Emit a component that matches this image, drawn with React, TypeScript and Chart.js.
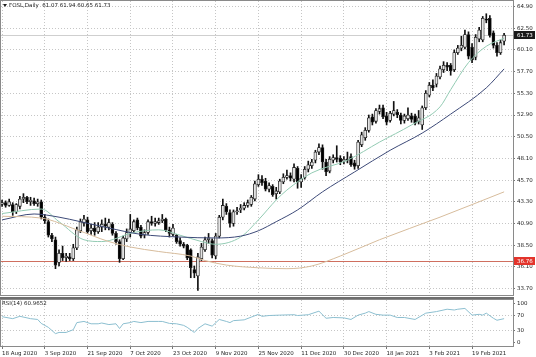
import React, { useEffect, useRef } from 'react';
import { Chart, registerables } from 'chart.js';

Chart.register(...registerables);

// ---- Data ----
const headerText = 'FOSL,Daily  61.07 61.94 60.65 61.73';
const rsiHeaderText = 'RSI(14) 60.9652';

const opens = [
  43.0, 43.2, 42.9, 43.0, 42.2, 42.8, 43.6, 43.8, 43.3, 43.4, 43.1, 43.3, 41.6, 41.1, 39.6, 39.1, 36.6, 37.6, 37.1, 37.2,
  37.0, 38.2, 40.1, 41.0, 41.3, 40.1, 40.4, 40.0, 40.5, 40.8, 40.5, 40.8, 39.8, 38.9, 37.0, 39.2, 39.9, 40.1, 41.3, 40.5,
  39.6, 39.9, 41.1, 40.9, 41.0, 41.2, 41.4, 40.2, 39.7, 39.6, 39.0, 38.6, 38.5, 38.0, 35.8, 35.1, 37.0, 38.0, 39.1, 39.0,
  37.3, 39.5, 41.6, 42.8, 42.1, 40.9, 42.2, 42.4, 42.6, 42.9, 43.0, 43.6, 45.2, 45.8, 45.6, 44.7, 45.0, 44.2, 44.4, 45.5,
  46.0, 46.2, 45.8, 47.0, 45.5, 46.0, 46.9, 47.3, 47.9, 48.8, 49.3, 47.7, 46.7, 47.9, 48.2, 48.1, 47.8, 48.0, 48.3, 47.6,
  47.3, 49.6, 50.4, 51.2, 52.7, 52.2, 53.3, 53.7, 52.8, 52.3, 53.0, 53.2, 52.9, 52.3, 52.5, 52.8, 52.8, 52.2, 51.8, 53.7,
  55.1, 56.2, 56.3, 57.1, 57.9, 58.4, 58.4, 57.9, 59.8, 60.3, 60.4, 61.8, 60.4, 59.3, 61.3, 61.2, 63.5, 63.6, 62.0, 60.6,
  59.8, 61.07,
];
const highs = [
  43.5, 43.4, 43.6, 43.2, 43.1, 43.9, 44.2, 43.9, 43.8, 43.7, 43.6, 43.5, 41.9, 41.4, 39.8, 39.4, 38.0, 38.4, 37.6, 37.6,
  38.6, 40.5, 41.4, 41.8, 41.6, 40.8, 41.0, 41.0, 41.3, 41.5, 41.4, 41.0, 40.0, 39.1, 39.5, 40.3, 41.9, 41.3, 41.5, 40.7,
  40.2, 41.3, 41.7, 41.5, 41.5, 41.9, 41.5, 40.5, 40.8, 39.7, 39.3, 38.8, 38.6, 38.1, 36.2, 37.6, 38.7, 39.4, 39.8, 39.2,
  39.8, 41.8, 43.6, 43.1, 42.4, 42.4, 42.7, 43.0, 43.2, 43.5, 44.0, 45.6, 46.3, 46.2, 45.9, 45.4, 45.2, 44.9, 45.8, 46.4,
  46.8, 46.5, 47.5, 47.2, 46.3, 47.2, 47.8, 48.0, 49.0, 49.7, 49.6, 48.0, 48.3, 48.5, 49.5, 48.4, 48.3, 48.8, 48.6, 47.9,
  50.1, 51.0, 51.5, 52.9, 53.0, 53.6, 54.0, 54.0, 53.2, 53.3, 54.4, 53.5, 53.1, 53.0, 53.7, 53.1, 53.0, 53.4, 53.9, 55.6,
  56.5, 56.8, 57.5, 58.3, 58.8, 58.7, 58.6, 60.1, 60.6, 61.6, 62.3, 62.1, 60.8, 61.8, 62.6, 63.8, 64.1, 63.9, 62.2, 60.9,
  61.2, 61.94,
];
const lows = [
  42.8, 42.7, 42.8, 41.8, 42.0, 42.5, 43.2, 43.1, 42.9, 42.9, 42.8, 41.4, 40.9, 39.4, 38.9, 35.9, 36.2, 36.8, 36.7, 36.8,
  36.8, 38.0, 39.9, 40.6, 39.8, 39.7, 39.6, 39.8, 40.0, 40.2, 40.2, 39.6, 38.6, 36.6, 36.9, 38.9, 39.4, 39.9, 40.2, 39.3,
  39.3, 39.7, 40.7, 40.6, 40.8, 41.0, 40.0, 39.4, 39.5, 38.7, 38.4, 38.2, 36.9, 34.9, 34.9, 33.5, 36.8, 37.8, 38.7, 37.1,
  37.0, 39.3, 41.3, 41.9, 40.5, 40.6, 41.9, 42.1, 42.4, 42.7, 42.8, 43.4, 45.0, 45.1, 44.5, 44.4, 43.9, 43.6, 44.2, 45.3,
  45.8, 45.6, 45.5, 44.8, 44.9, 45.8, 46.6, 47.0, 47.6, 48.5, 46.9, 46.2, 46.5, 47.6, 47.7, 47.4, 47.5, 47.6, 47.2, 46.9,
  47.0, 49.4, 50.1, 51.0, 51.8, 52.0, 53.0, 52.5, 51.8, 52.1, 52.8, 52.6, 51.9, 52.0, 52.3, 52.1, 51.8, 51.9, 51.3, 53.5,
  54.9, 55.6, 56.0, 56.9, 57.6, 57.8, 57.3, 57.7, 59.6, 60.0, 60.2, 59.1, 58.7, 59.0, 61.0, 61.0, 63.1, 61.5, 60.3, 59.4,
  59.6, 60.65,
];
const closes = [
  43.2, 42.9, 43.3, 42.2, 43.0, 43.6, 43.8, 43.3, 43.5, 43.1, 43.3, 41.6, 41.2, 39.6, 39.2, 36.3, 37.6, 37.1, 37.3, 37.0,
  38.2, 40.2, 41.1, 41.4, 40.0, 40.4, 40.0, 40.5, 40.8, 40.6, 41.0, 39.8, 38.9, 37.0, 39.3, 39.9, 40.3, 41.1, 40.4, 39.5,
  39.9, 41.1, 40.9, 41.1, 41.2, 41.4, 40.2, 39.8, 40.4, 38.9, 38.6, 38.4, 37.1, 36.0, 35.4, 37.2, 38.3, 39.1, 39.3, 37.4,
  39.5, 41.6, 42.9, 42.2, 40.9, 42.2, 42.3, 42.6, 42.9, 43.2, 43.8, 45.3, 45.8, 45.4, 44.7, 45.1, 44.1, 44.5, 45.6, 46.0,
  46.2, 45.9, 47.1, 45.5, 45.9, 46.9, 47.4, 47.7, 48.8, 49.3, 47.7, 46.6, 48.0, 48.2, 48.0, 47.7, 48.0, 47.9, 47.4, 47.2,
  49.9, 50.7, 51.2, 52.6, 52.1, 53.4, 53.6, 52.7, 52.1, 53.1, 53.4, 52.9, 52.3, 52.8, 52.9, 52.4, 52.0, 52.6, 53.7, 55.3,
  56.2, 55.9, 57.2, 58.0, 58.4, 58.2, 57.8, 59.8, 60.3, 60.6, 61.8, 59.4, 59.0, 61.5, 62.3, 63.6, 63.4, 61.7, 60.6, 59.8,
  60.9, 61.73,
];

const ma20Bars = [0, 11, 16, 23, 28, 37, 44, 50, 56, 60, 67, 72, 77, 80, 87, 97, 106, 115, 123, 126, 131, 136, 141];
const ma20Vals = [42.0, 42.5, 41.1, 39.1, 38.9, 39.9, 40.2, 39.6, 38.9, 38.6, 39.4, 41.3, 43.5, 44.6, 46.5, 47.9, 49.9, 51.8, 53.8, 55.7, 58.7, 60.5, 61.4];

const ma50Bars = [0, 9, 16, 22, 30, 39, 50, 60, 67, 72, 77, 83, 90, 99, 109, 118, 126, 136, 141];
const ma50Vals = [41.3, 41.95, 41.6, 41.1, 40.4, 39.7, 39.4, 39.3, 39.5, 40.1, 41.1, 42.4, 44.4, 46.6, 49.0, 50.9, 53.0, 55.9, 58.0];

const ma200Bars = [0, 11, 21, 30, 36, 44, 53, 57, 63, 72, 80, 87, 95, 106, 123, 141];
const ma200Vals = [41.7, 41.5, 40.2, 38.9, 38.3, 37.8, 37.3, 36.8, 36.3, 36.0, 35.9, 36.2, 37.3, 39.1, 41.6, 44.4];

const rsiBars = [0, 3, 5, 8, 10, 11, 13, 15, 16, 18, 20, 21, 23, 25, 27, 28, 30, 32, 33, 34, 36, 37, 39, 41, 44, 45, 47, 49, 51, 52, 54, 55, 57, 59, 61, 63, 64, 65, 68, 70, 72, 73, 75, 78, 82, 83, 86, 89, 91, 93, 96, 98, 100, 102, 103, 105, 107, 109, 111, 113, 116, 119, 122, 125, 127, 128, 130, 132, 134, 135, 136, 138, 139, 141];
const rsiVals = [66, 61, 67, 61, 59, 49, 39, 23, 26, 26, 33, 51, 54, 48, 48, 50, 46, 48, 36, 48, 51, 54, 51, 54, 54, 54, 49, 48, 44, 39, 26, 36, 48, 42, 59, 54, 51, 56, 58, 65, 72, 67, 69, 70, 71, 69, 71, 80, 62, 64, 63, 59, 70, 75, 79, 72, 70, 70, 64, 64, 59, 75, 79, 85, 83, 85, 87, 70, 72, 70, 75, 62, 57, 61];

const dateTickBars = [0, 12, 24, 36, 48, 60, 72, 84, 96, 108, 120, 132];
const dateTickLabels = ['18 Aug 2020', '3 Sep 2020', '21 Sep 2020', '7 Oct 2020', '23 Oct 2020', '9 Nov 2020', '25 Nov 2020', '11 Dec 2020', '30 Dec 2020', '18 Jan 2021', '3 Feb 2021', '19 Feb 2021'];
const priceTicks = [33.7, 36.1, 38.5, 40.9, 43.3, 45.7, 48.1, 50.5, 52.9, 55.3, 57.7, 60.1, 62.5, 64.9];
const rsiTicks = [0, 30, 70, 100];
const rsiLevels = [30, 70];
const supportLevel = 36.76;
const lastPrice = 61.73;

// ---- Styling ----
const FONT = "'DejaVu Sans', sans-serif";
const FS = 5.5;
const GRID = '#c6c6c6';
const TEXT = '#1e1e1e';
const X_MIN = -0.3;
const X_MAX = 143.5;

function noPad(s: any) {
  s.paddingTop = 0;
  s.paddingBottom = 0;
  s.paddingLeft = 0;
  s.paddingRight = 0;
}

function xAxis(showLabels: boolean) {
  return {
    type: 'linear',
    min: X_MIN,
    max: X_MAX,
    offset: false,
    afterBuildTicks: (s: any) => {
      s.ticks = dateTickBars.map((v) => ({ value: v }));
    },
    afterFit: (s: any) => {
      s.height = showLabels ? 11 : 0;
      noPad(s);
    },
    ticks: {
      display: showLabels,
      autoSkip: false,
      maxRotation: 0,
      minRotation: 0,
      align: 'start',
      padding: 1,
      color: TEXT,
      font: { family: FONT, size: FS },
      callback: (_v: any, i: number) => dateTickLabels[i],
    },
    grid: { color: GRID, lineWidth: 1, offset: false, drawTicks: showLabels, tickLength: 3, tickColor: '#777' },
    border: { display: false, dash: [1, 2] },
  };
}

const framePlugin = {
  id: 'frame',
  afterDraw(chart: any) {
    const { ctx, chartArea: a } = chart;
    ctx.save();
    ctx.strokeStyle = '#8a8a8a';
    ctx.lineWidth = 1;
    ctx.beginPath();
    ctx.moveTo(0.5, 0);
    ctx.lineTo(0.5, a.bottom + 1);
    ctx.moveTo(0, 0.5);
    ctx.lineTo(a.right + 1, 0.5);
    ctx.moveTo(a.right + 0.5, 0);
    ctx.lineTo(a.right + 0.5, a.bottom + 1);
    ctx.moveTo(0, a.bottom + 0.5);
    ctx.lineTo(a.right + 1, a.bottom + 0.5);
    ctx.stroke();
    ctx.restore();
  },
};

const priceLinesPlugin = {
  id: 'priceLines',
  beforeDatasetsDraw(chart: any) {
    const { ctx, chartArea: a, scales } = chart;
    const ys = scales.y;
    ctx.save();
    ctx.lineWidth = 1;
    const yl = Math.round(ys.getPixelForValue(lastPrice)) + 0.5;
    ctx.strokeStyle = '#cfcfcf';
    ctx.beginPath();
    ctx.moveTo(a.left, yl);
    ctx.lineTo(a.right, yl);
    ctx.stroke();
    const yr = Math.round(ys.getPixelForValue(supportLevel)) + 0.5;
    ctx.strokeStyle = '#cf6f5f';
    ctx.beginPath();
    ctx.moveTo(a.left, yr);
    ctx.lineTo(a.right, yr);
    ctx.stroke();
    ctx.restore();
  },
  afterDraw(chart: any) {
    const { ctx, chartArea: a, scales } = chart;
    const ys = scales.y;
    ctx.save();
    ctx.font = `${FS}px ${FONT}`;
    ctx.textBaseline = 'middle';
    const tag = (v: number, bg: string) => {
      const y = Math.round(ys.getPixelForValue(v));
      ctx.fillStyle = bg;
      ctx.fillRect(a.right + 1, y - 4, 21, 8);
      ctx.fillStyle = '#ffffff';
      ctx.fillText(v.toFixed(2), a.right + 4, y + 0.5);
    };
    tag(lastPrice, '#1a1a1a');
    tag(supportLevel, '#e3342b');
    // header
    ctx.fillStyle = TEXT;
    ctx.beginPath();
    ctx.moveTo(3, 4);
    ctx.lineTo(7, 4);
    ctx.lineTo(5, 7);
    ctx.closePath();
    ctx.fill();
    ctx.fillText(headerText, 9, 6);
    ctx.restore();
  },
};

const rsiTextPlugin = {
  id: 'rsiText',
  afterDraw(chart: any) {
    const { ctx } = chart;
    ctx.save();
    ctx.font = `${FS}px ${FONT}`;
    ctx.textBaseline = 'middle';
    ctx.fillStyle = TEXT;
    ctx.fillText(rsiHeaderText, 2, 5);
    ctx.restore();
  },
};

export default function App() {
  const mainRef = useRef<HTMLCanvasElement>(null);
  const rsiRef = useRef<HTMLCanvasElement>(null);

  useEffect(() => {
    document.body.style.margin = '0';
    Chart.defaults.font.family = FONT;
    Chart.defaults.font.size = FS;
    const idx = closes.map((_, i) => i);
    const wicks = idx.map((i) => ({ x: i, y: [lows[i], highs[i]] }));
    const bodies = idx.map((i) => ({
      x: i,
      y: [Math.min(opens[i], closes[i]), Math.max(opens[i], closes[i])],
    }));
    const bodyColors = idx.map((i) => (closes[i] >= opens[i] ? '#e4e4e4' : '#000000'));
    const pts = (bars: number[], vals: number[]) => bars.map((b, k) => ({ x: b, y: vals[k] }));

    const main = new Chart(mainRef.current as HTMLCanvasElement, {
      type: 'bar',
      data: {
        datasets: [
          {
            type: 'line',
            data: pts(ma200Bars, ma200Vals),
            borderColor: '#d7bc9c',
            borderWidth: 1,
            pointRadius: 0,
            cubicInterpolationMode: 'monotone',
            order: 1,
          } as any,
          {
            type: 'line',
            data: pts(ma50Bars, ma50Vals),
            borderColor: '#3d4a78',
            borderWidth: 1,
            pointRadius: 0,
            cubicInterpolationMode: 'monotone',
            order: 1,
          } as any,
          {
            type: 'line',
            data: pts(ma20Bars, ma20Vals),
            borderColor: '#93cbb3',
            borderWidth: 1,
            pointRadius: 0,
            cubicInterpolationMode: 'monotone',
            order: 1,
          } as any,
          {
            type: 'bar',
            data: bodies,
            backgroundColor: bodyColors,
            borderColor: '#222222',
            borderWidth: 0.8,
            borderSkipped: false,
            barThickness: 3,
            grouped: false,
            order: 2,
          } as any,
          {
            type: 'bar',
            data: wicks,
            backgroundColor: '#111111',
            borderWidth: 0,
            barThickness: 1,
            grouped: false,
            order: 3,
          } as any,
        ],
      },
      options: {
        responsive: false,
        animation: false,
        events: [],
        layout: { padding: { left: 1, top: 1, right: 0, bottom: 2 } },
        plugins: { legend: { display: false }, tooltip: { enabled: false } },
        scales: {
          x: xAxis(false) as any,
          y: {
            type: 'linear',
            position: 'right',
            min: 32.99,
            max: 65.51,
            afterBuildTicks: (s: any) => {
              s.ticks = priceTicks.map((v) => ({ value: v }));
            },
            afterFit: (s: any) => {
              s.width = 23;
              noPad(s);
            },
            ticks: {
              autoSkip: false,
              padding: 2,
              color: TEXT,
              font: { family: FONT, size: FS },
              callback: (v: any) => Number(v).toFixed(2),
            },
            grid: { color: GRID, lineWidth: 1, tickLength: 2, tickColor: '#777' },
            border: { display: false, dash: [1, 2] },
          } as any,
        },
      },
      plugins: [priceLinesPlugin, framePlugin],
    });

    const rsi = new Chart(rsiRef.current as HTMLCanvasElement, {
      type: 'line',
      data: {
        datasets: [
          {
            data: pts(rsiBars, rsiVals),
            borderColor: '#8cbfd0',
            borderWidth: 1,
            pointRadius: 0,
            tension: 0,
          } as any,
        ],
      },
      options: {
        responsive: false,
        animation: false,
        events: [],
        layout: { padding: { left: 1, top: 1, right: 0, bottom: 0 } },
        plugins: { legend: { display: false }, tooltip: { enabled: false } },
        scales: {
          x: xAxis(true) as any,
          y: {
            type: 'linear',
            position: 'right',
            min: -8.4,
            max: 108.4,
            afterBuildTicks: (s: any) => {
              s.ticks = rsiTicks.map((v) => ({ value: v }));
            },
            afterFit: (s: any) => {
              s.width = 23;
              noPad(s);
            },
            ticks: {
              autoSkip: false,
              padding: 2,
              color: TEXT,
              font: { family: FONT, size: FS },
              callback: (v: any) => String(v),
            },
            grid: {
              color: (c: any) =>
                c.tick && rsiLevels.indexOf(c.tick.value) >= 0 ? GRID : 'rgba(0,0,0,0)',
              lineWidth: 1,
              tickLength: 2,
              tickColor: '#777',
            },
            border: { display: false, dash: [1, 2] },
          } as any,
        },
      },
      plugins: [rsiTextPlugin, framePlugin],
    });

    return () => {
      main.destroy();
      rsi.destroy();
    };
  }, []);

  return (
    <div
      style={{
        position: 'fixed',
        left: 0,
        top: 0,
        width: 536,
        height: 357,
        background: '#ffffff',
        overflow: 'hidden',
      }}
    >
      <canvas ref={mainRef} width={536} height={297} style={{ position: 'absolute', left: 0, top: 0 }} />
      <div style={{ position: 'absolute', left: 0, top: 297, width: 514, height: 2, background: '#6e6e6e' }} />
      <canvas ref={rsiRef} width={536} height={58} style={{ position: 'absolute', left: 0, top: 299 }} />
    </div>
  );
}
